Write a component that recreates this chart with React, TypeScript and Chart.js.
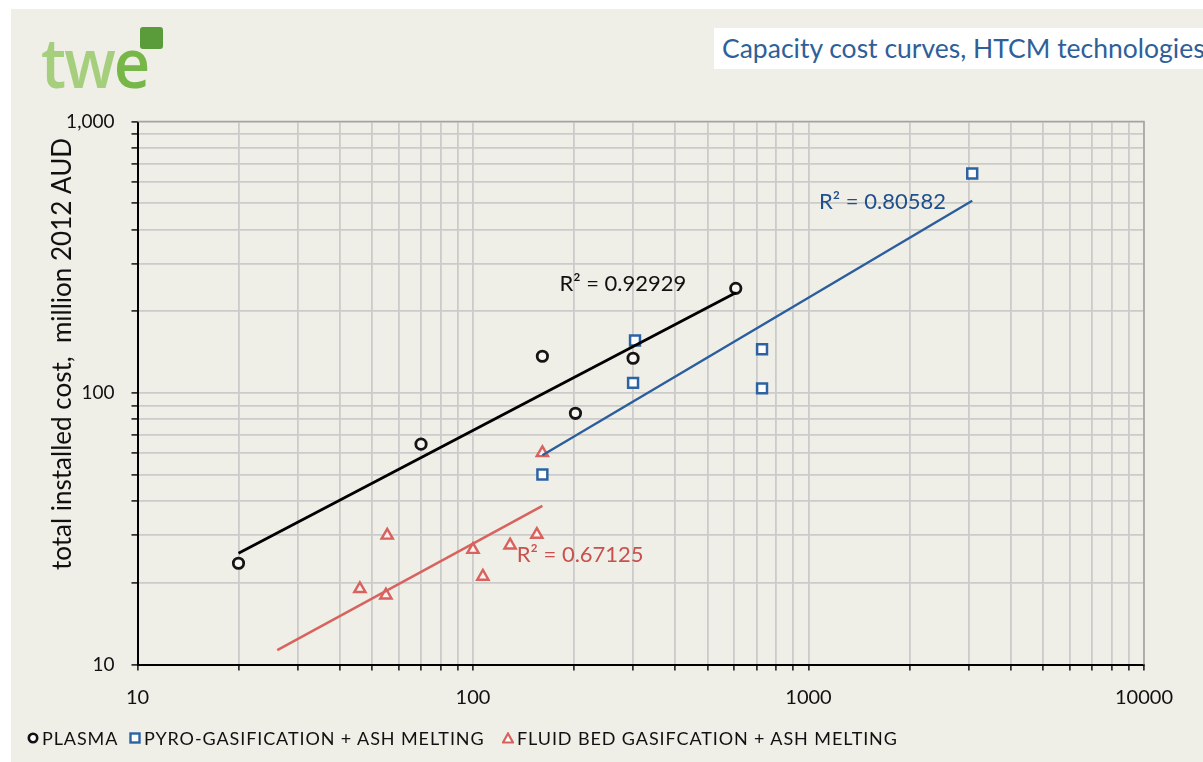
import React, { useEffect, useRef } from "react";
import { Chart, registerables } from "chart.js";

Chart.register(...registerables);

// ---- data ----
const seriesNames = ["PLASMA", "PYRO-GASIFICATION + ASH MELTING", "FLUID BED GASIFCATION + ASH MELTING"];

const plasmaCapacity = [20, 70, 161, 202, 300, 607];
const plasmaCost = [23.6, 64.8, 136.6, 84.2, 134.3, 243];

const pyroCapacity = [161, 304, 300, 727, 727, 3076];
const pyroCost = [50.1, 156, 109, 145, 104, 643];

const fluidCapacity = [46, 55.5, 55, 100, 107, 129, 155, 161];
const fluidCost = [19.0, 29.9, 18.0, 26.5, 21.1, 27.5, 30.1, 60.2];

// power trend lines (end points)
const plasmaTrendCapacity = [20, 607];
const plasmaTrendCost = [25.7, 234];
const pyroTrendCapacity = [161, 3076];
const pyroTrendCost = [59, 511];
const fluidTrendCapacity = [26.1, 161];
const fluidTrendCost = [11.3, 38.4];

const r2Texts = ["R² = 0.92929", "R² = 0.80582", "R² = 0.67125"];
const r2AnchorCapacity = [181, 1075, 135];
const r2AnchorCost = [252, 506, 25.3];

const xMajorTicks = [10, 100, 1000, 10000];
const yMajorTicks = [10, 100, 1000];

const chartTitle = "Capacity cost curves, HTCM technologies";
const yAxisTitle = "total installed cost,  million 2012 AUD";

// ---- styling ----
const BG = "#efeee7";
const FONT = "Lato, 'Open Sans', sans-serif";
const BLACK = "#111111";
const BLUE = "#2d63a3";
const RED = "#d8625d";
const SERIES_COLORS = [BLACK, BLUE, RED];

function withMinors(majors: number[]): number[] {
  const out: number[] = [];
  for (let i = 0; i < majors.length - 1; i++) {
    for (let m = 1; m <= 9; m++) out.push(majors[i] * m);
  }
  out.push(majors[majors.length - 1]);
  return out;
}

const pts = (xs: number[], ys: number[]) => xs.map((x, i) => ({ x, y: ys[i] }));

const overlayPlugin = {
  id: "overlay",
  beforeDatasetsDraw(chart: any) {
    const { ctx, chartArea } = chart;
    ctx.save();
    ctx.strokeStyle = "#a3a3a3";
    ctx.lineWidth = 1.5;
    ctx.beginPath();
    ctx.moveTo(chartArea.left, chartArea.top);
    ctx.lineTo(chartArea.right, chartArea.top);
    ctx.lineTo(chartArea.right, chartArea.bottom);
    ctx.stroke();
    ctx.restore();
  },
  afterDatasetsDraw(chart: any) {
    const { ctx, scales } = chart;
    ctx.save();
    ctx.font = `22px ${FONT}`;
    ctx.textBaseline = "middle";
    ctx.textAlign = "left";
    r2Texts.forEach((t, i) => {
      ctx.fillStyle = i === 0 ? BLACK : i === 1 ? "#1f4f8c" : "#c9514d";
      ctx.fillText(t, scales.x.getPixelForValue(r2AnchorCapacity[i]), scales.y.getPixelForValue(r2AnchorCost[i]));
    });
    ctx.restore();

    ctx.save();
    ctx.translate(63, 354);
    ctx.rotate(-Math.PI / 2);
    ctx.font = `26px ${FONT}`;
    ctx.fillStyle = BLACK;
    ctx.textAlign = "center";
    ctx.textBaseline = "middle";
    ctx.fillText(yAxisTitle, 0, 0);
    ctx.restore();
  },
};

function LegendMarker({ kind, color }: { kind: number; color: string }) {
  if (kind === 0)
    return (
      <svg width="12" height="12" style={{ display: "block" }}>
        <circle cx="6" cy="6" r="4.2" fill="#fff" stroke={color} strokeWidth="2.6" />
      </svg>
    );
  if (kind === 1)
    return (
      <svg width="12" height="12" style={{ display: "block" }}>
        <rect x="1.5" y="1.5" width="9" height="9" fill="#fff" stroke={color} strokeWidth="2.4" />
      </svg>
    );
  return (
    <svg width="12" height="12" style={{ display: "block" }}>
      <polygon points="6,1.5 11,10.5 1,10.5" fill="#fff" stroke={color} strokeWidth="2.2" />
    </svg>
  );
}

export default function App() {
  const canvasRef = useRef<HTMLCanvasElement | null>(null);

  useEffect(() => {
    document.body.style.margin = "0";
    const canvas = canvasRef.current;
    if (!canvas) return;

    const xTicks = withMinors(xMajorTicks);
    const yTicks = withMinors(yMajorTicks);

    const chart = new Chart(canvas, {
      type: "scatter",
      data: {
        datasets: [
          {
            label: "plasma trend",
            data: pts(plasmaTrendCapacity, plasmaTrendCost),
            showLine: true,
            borderColor: "#000",
            borderWidth: 2.8,
            pointRadius: 0,
            fill: false,
          },
          {
            label: "pyro trend",
            data: pts(pyroTrendCapacity, pyroTrendCost),
            showLine: true,
            borderColor: "#2a5e9c",
            borderWidth: 2.4,
            pointRadius: 0,
            fill: false,
          },
          {
            label: "fluid trend",
            data: pts(fluidTrendCapacity, fluidTrendCost),
            showLine: true,
            borderColor: RED,
            borderWidth: 2.4,
            pointRadius: 0,
            fill: false,
          },
          {
            label: seriesNames[0],
            data: pts(plasmaCapacity, plasmaCost),
            pointStyle: "circle",
            pointRadius: 5.2,
            borderWidth: 2.8,
            borderColor: "#151515",
            backgroundColor: "#f7f6f2",
          },
          {
            label: seriesNames[1],
            data: pts(pyroCapacity, pyroCost),
            pointStyle: "rect",
            pointRadius: 7,
            borderWidth: 2.5,
            borderColor: BLUE,
            backgroundColor: "#ffffff",
          },
          {
            label: seriesNames[2],
            data: pts(fluidCapacity, fluidCost),
            pointStyle: "triangle",
            pointRadius: 6.5,
            borderWidth: 2.4,
            borderColor: RED,
            backgroundColor: "#fbf0ee",
          },
        ] as any,
      },
      options: {
        responsive: false,
        animation: false,
        events: [],
        layout: { padding: { left: 0, top: 121.5, right: 59, bottom: 47.5 } },
        plugins: {
          legend: { display: false },
          tooltip: { enabled: false },
          title: { display: false },
        },
        scales: {
          x: {
            type: "logarithmic",
            min: 10,
            max: 10000,
            afterBuildTicks: (scale: any) => {
              scale.ticks = xTicks.map((v) => ({ value: v }));
            },
            afterFit: (scale: any) => {
              scale.height = 50;
            },
            ticks: {
              autoSkip: false,
              maxRotation: 0,
              padding: 15,
              color: BLACK,
              font: { family: FONT, size: 20 },
              callback: (v: any) => (xMajorTicks.includes(Number(v)) ? String(v) : ""),
            },
            grid: {
              color: "#cbcbcb",
              lineWidth: 1.8,
              tickColor: "#111",
              tickWidth: 1.5,
              tickLength: 6,
            },
            border: { color: "#000", width: 2 },
          },
          y: {
            type: "logarithmic",
            min: 10,
            max: 1000,
            afterBuildTicks: (scale: any) => {
              scale.ticks = yTicks.map((v) => ({ value: v }));
            },
            afterFit: (scale: any) => {
              scale.width = 137.5;
            },
            ticks: {
              autoSkip: false,
              padding: 17,
              color: BLACK,
              font: { family: FONT, size: 19 },
              callback: (v: any) =>
                yMajorTicks.includes(Number(v)) ? Number(v).toLocaleString("en-US") : "",
            },
            grid: {
              color: "#cbcbcb",
              lineWidth: 1.8,
              tickColor: "#111",
              tickWidth: 1.5,
              tickLength: 6,
            },
            border: { color: "#000", width: 2 },
          },
        },
      } as any,
      plugins: [overlayPlugin],
    });

    return () => chart.destroy();
  }, []);

  const legendLefts = [27, 129, 502];

  return (
    <div
      style={{
        position: "relative",
        width: 1203,
        height: 762,
        background: "#ffffff",
        overflow: "hidden",
        fontFamily: FONT,
      }}
    >
      <div style={{ position: "absolute", left: 11, top: 9, right: 0, bottom: 0, background: BG }} />

      {/* logo */}
      <div
        style={{
          position: "absolute",
          left: 41,
          top: 26,
          fontSize: 68,
          lineHeight: "72px",
          letterSpacing: -2,
          fontWeight: 600,
          fontFamily: "'Open Sans', Lato, sans-serif",
          whiteSpace: "nowrap",
          transform: "scaleX(0.93)",
          transformOrigin: "left top",
        }}
      >
        <span style={{ color: "#a5cf7c" }}>tw</span>
        <span style={{ color: "#76b748" }}>e</span>
      </div>
      <div
        style={{
          position: "absolute",
          left: 140,
          top: 27,
          width: 23,
          height: 22,
          background: "#5a9b3a",
          borderRadius: 3,
        }}
      />

      {/* title */}
      <div
        style={{
          position: "absolute",
          left: 714,
          top: 28,
          right: 0,
          height: 41,
          background: "#ffffff",
          whiteSpace: "nowrap",
          overflow: "hidden",
        }}
      >
        <span
          style={{
            position: "absolute",
            left: 8,
            top: 2,
            fontSize: 26.5,
            lineHeight: "36px",
            color: "#2f5f99",
          }}
        >
          {chartTitle}
        </span>
      </div>

      <canvas
        ref={canvasRef}
        width={1203}
        height={762}
        style={{ position: "absolute", left: 0, top: 0, width: 1203, height: 762, display: "block" }}
      />

      {/* legend */}
      {seriesNames.map((name, i) => (
        <div
          key={name}
          style={{
            position: "absolute",
            left: legendLefts[i],
            top: 727,
            height: 22,
            display: "flex",
            alignItems: "center",
            gap: 3,
            whiteSpace: "nowrap",
          }}
        >
          <LegendMarker kind={i} color={SERIES_COLORS[i]} />
          <span style={{ fontSize: 18, letterSpacing: 0.9, color: BLACK, lineHeight: "22px" }}>{name}</span>
        </div>
      ))}
    </div>
  );
}
